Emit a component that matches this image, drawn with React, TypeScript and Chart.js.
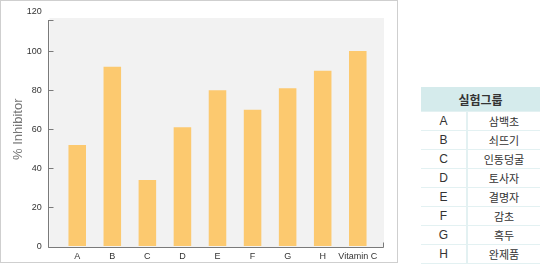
import React, { useEffect, useRef } from "react";
import { Chart, registerables } from "chart.js";

Chart.register(...registerables);

const categories = ["A", "B", "C", "D", "E", "F", "G", "H", "Vitamin C"];
const inhibition = [52, 92, 34, 61, 80, 70, 81, 90, 100];
const yTicks = [0, 20, 40, 60, 80, 100, 120];
const groupCodes = ["A", "B", "C", "D", "E", "F", "G", "H"];
const groupNames = ["삼백초", "쇠뜨기", "인동덩굴", "토사자", "결명자", "감초", "흑두", "완제품"];
const tableTitle = "실험그룹";
const yTitle = "% Inhibitor";

const AXIS_X = 47.5;
const PLOT_RIGHT = 383;
const PLOT_TOP = 17;
const AXIS_TOP = 19;

const axesPlugin = {
  id: "customAxes",
  beforeDatasetsDraw(chart: any) {
    const { ctx, chartArea } = chart;
    if (!chartArea) return;
    const bottom = Math.round(chartArea.bottom);
    ctx.save();
    ctx.fillStyle = "#f2f2f2";
    ctx.fillRect(AXIS_X + 1, PLOT_TOP, PLOT_RIGHT - AXIS_X - 1, bottom - PLOT_TOP);
    ctx.restore();
  },
  afterDatasetsDraw(chart: any) {
    const { ctx, chartArea, scales } = chart;
    const bottom = Math.round(chartArea.bottom) + 0.5;
    ctx.save();
    ctx.strokeStyle = "#7a7a7a";
    ctx.lineWidth = 1;
    ctx.beginPath();
    ctx.moveTo(AXIS_X, AXIS_TOP);
    ctx.lineTo(AXIS_X, bottom);
    ctx.lineTo(PLOT_RIGHT - 0.5, bottom);
    ctx.lineTo(PLOT_RIGHT - 0.5, bottom - 5);
    for (const v of yTicks) {
      const y = Math.max(AXIS_TOP, Math.round(scales.y.getPixelForValue(v))) + 0.5;
      ctx.moveTo(AXIS_X, y);
      ctx.lineTo(AXIS_X + 5, y);
    }
    ctx.stroke();
    ctx.restore();
  },
};

export default function App() {
  const ref = useRef<HTMLCanvasElement>(null);
  useEffect(() => {
    if (!ref.current) return;
    const chart = new Chart(ref.current, {
      type: "bar",
      data: {
        labels: categories,
        datasets: [
          {
            data: inhibition,
            backgroundColor: "#fcc96f",
            borderWidth: 0,
            barPercentage: 0.5,
            categoryPercentage: 1,
          },
        ],
      },
      options: {
        animation: false,
        responsive: false,
        maintainAspectRatio: false,
        layout: { padding: { top: 11, right: 21.7, left: 0, bottom: 0 } },
        plugins: { legend: { display: false }, tooltip: { enabled: false } },
        scales: {
          x: {
            grid: { display: false, drawTicks: false },
            border: { display: false },
            ticks: {
              color: "#333",
              font: { family: "Liberation Sans, Arial, sans-serif", size: 9 },
              padding: 5,
              maxRotation: 0,
              autoSkip: false,
            },
            afterFit(scale: any) {
              scale.height = 15.5;
            },
          },
          y: {
            min: 0,
            max: 120,
            afterBuildTicks(scale: any) {
              scale.ticks = yTicks.map((v) => ({ value: v }));
            },
            grid: {
              display: true,
              drawOnChartArea: false,
              drawTicks: true,
              tickLength: 15,
              color: "rgba(0,0,0,0)",
            },
            border: { display: false },
            ticks: {
              color: "#333",
              font: { family: "Liberation Sans, Arial, sans-serif", size: 9 },
              padding: 3,
            },
            title: {
              display: true,
              text: yTitle,
              color: "#777",
              font: { family: "Liberation Sans, Arial, sans-serif", size: 13 },
              padding: { top: 10, bottom: 0 },
            },
            afterFit(scale: any) {
              scale.width = 58.7;
            },
          },
        },
      },
      plugins: [axesPlugin],
    });
    return () => chart.destroy();
  }, []);

  const cellFont = "'Noto Sans CJK KR', 'Liberation Sans', Arial, sans-serif";

  return (
    <div style={{ position: "fixed", left: 0, top: 0, width: 540, height: 267, background: "#fff", overflow: "hidden" }}>
      <div
        style={{
          position: "absolute",
          left: 0,
          top: 0,
          width: 396,
          height: 261,
          border: "1px solid #cfcfcf",
        }}
      >
        <canvas ref={ref} width={396} height={261} style={{ display: "block", width: 396, height: 261 }} />
      </div>
      <table
        style={{
          position: "absolute",
          left: 421,
          top: 87,
          width: 119,
          borderCollapse: "collapse",
          fontFamily: cellFont,
          fontSize: 11,
          color: "#333",
        }}
      >
        <thead>
          <tr>
            <th
              colSpan={2}
              style={{
                background: "#d5ebec",
                height: 24,
                padding: 0,
                fontSize: 12,
                fontWeight: "bold",
                color: "#333",
                borderBottom: "1px solid #e3f1f2",
              }}
            >
              {tableTitle}
            </th>
          </tr>
        </thead>
        <tbody>
          {groupCodes.map((c, i) => (
            <tr key={c}>
              <td
                style={{
                  width: 45,
                  height: 18,
                  padding: 0,
                  textAlign: "center",
                  fontFamily: "'Liberation Sans', Arial, sans-serif",
                  fontSize: 12,
                  borderRight: "2px solid #e3f1f2",
                  borderBottom: "1px solid #e3f1f2",
                  lineHeight: "18px",
                }}
              >
                {c}
              </td>
              <td
                style={{
                  height: 18,
                  padding: 0,
                  textAlign: "center",
                  borderBottom: "1px solid #e3f1f2",
                  lineHeight: "18px",
                }}
              >
                {groupNames[i]}
              </td>
            </tr>
          ))}
        </tbody>
      </table>
    </div>
  );
}
